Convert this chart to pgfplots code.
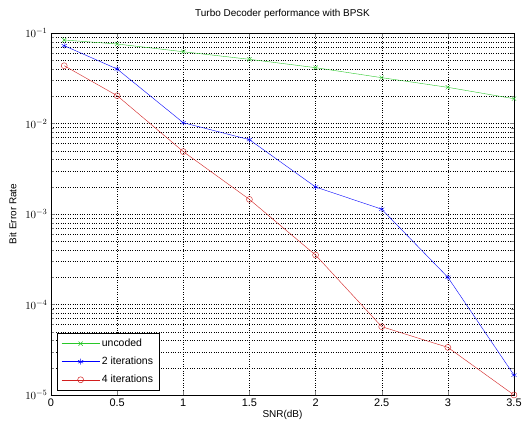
\documentclass[border=0pt]{standalone}
\usepackage{fontspec}
\setmainfont{Liberation Sans}
\usepackage{pgfplots}
\pgfplotsset{compat=1.18}
\begin{document}
\begin{tikzpicture}
\begin{axis}[
  scale only axis,
  width=463bp, height=362bp,
  xmin=0, xmax=3.5,
  ymode=log, ymin=1e-5, ymax=1e-1,
  xtick={0,0.5,1,1.5,2,2.5,3,3.5},
  xticklabels={0,0.5,1,1.5,2,2.5,3,3.5},
  ytick={1e-5,1e-4,1e-3,1e-2,1e-1},
  yticklabels={$10^{-5}$,$10^{-4}$,$10^{-3}$,$10^{-2}$,$10^{-1}$},
  grid=both,
  major grid style={black, dotted},
  minor grid style={black, dotted},
  minor y tick num=8,
  tick align=inside,
  tick label style={font=\fontsize{11}{12}\selectfont},
  /pgf/number format/assume math mode=true,
  title={Turbo Decoder performance with BPSK},
  title style={font=\fontsize{10}{12}\selectfont, yshift=5pt},
  xlabel={SNR(dB)},
  ylabel={Bit Error Rate},
  label style={font=\fontsize{10}{12}\selectfont},
  xlabel style={yshift=3pt},
  ylabel style={yshift=2pt},
  legend style={font=\fontsize{10.5}{12}\selectfont, draw=black, line width=0.8pt, at={(0.013,0.012)}, anchor=south west, row sep=5pt, inner sep=4pt},
  legend cell align=left,
  legend image code/.code={\draw[mark repeat=2, mark phase=2, line width=0.5pt, #1] plot coordinates {(0cm,0cm) (0.67cm,0cm) (1.34cm,0cm)};},
]
\addplot[color={rgb,255:red,40;green,200;blue,40}, mark=x, mark size=3pt] coordinates {
(0.1,0.0837) (0.5,0.0756) (1,0.0621) (1.5,0.0512) (2,0.0414) (2.5,0.0321) (3,0.0251) (3.5,0.0188)};
\addlegendentry{uncoded}
\addplot[color=blue, mark=asterisk, mark size=3pt] coordinates {
(0.1,0.0724) (0.5,0.040) (1,0.0102) (1.5,0.00663) (2,0.00199) (2.5,0.00113) (3,0.0002) (3.5,1.66e-5)};
\addlegendentry{2 iterations}
\addplot[color={rgb,255:red,210;green,30;blue,30}, mark=o, mark size=3pt] coordinates {
(0.1,0.0435) (0.5,0.0203) (1,0.00489) (1.5,0.00145) (2,0.000352) (2.5,5.69e-5) (3,3.36e-5) (3.5,1e-5)};
\addlegendentry{4 iterations}
\end{axis}
\pgfresetboundingbox
\path ([shift={(-51bp,-36bp)}]current axis.south west) rectangle ([shift={(10bp,33bp)}]current axis.north east);
\end{tikzpicture}
\end{document}
